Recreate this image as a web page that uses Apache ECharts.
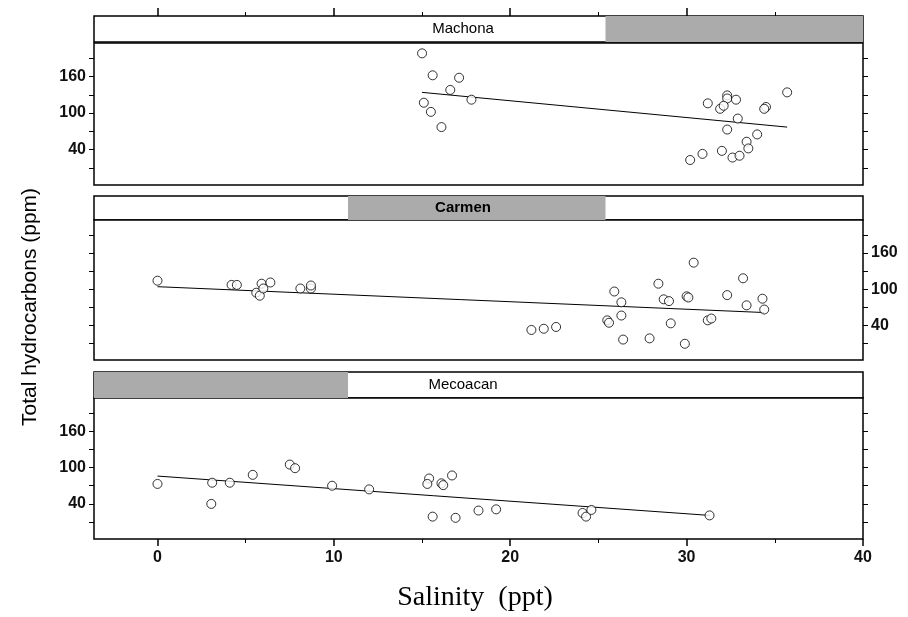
<!DOCTYPE html>
<html>
<head>
<meta charset="utf-8">
<script src="https://cdn.jsdelivr.net/npm/echarts@6/dist/echarts.min.js"></script>
<style>
  html, body { margin: 0; padding: 0; background: #fff; }
  #chart { width: 908px; height: 617px; }
</style>
</head>
<body>
<div id="chart"></div>
<script>
// salinity (ppt) vs total hydrocarbons (ppm), one panel per lagoon
const panelNames = ["Machona", "Carmen", "Mecoacan"];

const machonaPts = [
  [15.0, 198], [15.6, 162], [17.1, 158], [16.6, 138], [17.8, 122], [15.1, 117], [15.5, 102], [16.1, 77],
  [35.7, 134], [31.2, 116], [32.3, 129], [32.3, 124], [32.8, 122], [31.9, 107], [32.1, 112], [34.5, 110],
  [34.4, 107], [32.9, 91], [32.3, 73], [34.0, 65], [33.4, 53], [33.5, 42], [32.0, 38], [30.9, 33],
  [30.2, 23], [32.6, 27], [33.0, 30]
];
const machonaFit = [[15.0, 134], [35.7, 77]];

const carmenPts = [
  [0.0, 114], [4.2, 107], [4.5, 107], [5.9, 109], [6.4, 111], [5.6, 94], [5.8, 89], [6.0, 101],
  [8.1, 101], [8.7, 101], [8.7, 106],
  [30.4, 144], [33.2, 118], [28.4, 109], [25.9, 96], [32.3, 90], [34.3, 84], [28.7, 83], [29.0, 80],
  [30.0, 88], [30.1, 86], [26.3, 78], [33.4, 73], [34.4, 66], [26.3, 56], [25.5, 48], [25.6, 44],
  [31.2, 48], [31.4, 51], [29.1, 43], [21.2, 32], [21.9, 34], [22.6, 37], [26.4, 16], [27.9, 18],
  [29.9, 9]
];
const carmenFit = [[0.0, 104], [34.4, 61]];

const mecoacanPts = [
  [0.0, 73], [3.1, 75], [4.1, 75], [3.05, 40], [5.4, 88], [7.5, 105], [7.8, 99], [9.9, 70],
  [12.0, 64], [15.4, 82], [15.3, 73], [16.1, 74], [16.2, 71], [16.7, 87], [15.6, 19], [16.9, 17],
  [18.2, 29], [19.2, 31], [24.1, 25], [24.3, 19], [24.6, 30], [31.3, 21]
];
const mecoacanFit = [[0.0, 86], [31.3, 21]];

// salinity band shaded in each strip
const machonaShade = [25.4, 40];
const carmenShade = [10.8, 25.4];
const mecoacanShade = [-3.6, 10.8];

const salinityMajor = [0, 10, 20, 30, 40];
const salinityMinor = [5, 15, 25, 35];
const hcTicks = [10, 40, 70, 100, 130, 160, 190];
const hcLabels = [40, 100, 160];

const chart = echarts.init(document.getElementById("chart"));

const xMin = -3.6, xMax = 40;
const yMin = -18, yMax = 215;
const gridLeft = 94, gridRight = 45;

// strip, plot, strip, plot, strip, plot
const boxes = [
  { top: 16, height: 26 },
  { top: 43, height: 142 },
  { top: 196, height: 24 },
  { top: 220, height: 140 },
  { top: 372, height: 26 },
  { top: 398, height: 141 },
];

const grid = boxes.map((b) => ({
  left: gridLeft,
  right: gridRight,
  top: b.top,
  height: b.height,
  show: true,
  backgroundColor: "#fff",
  borderColor: "#000",
  borderWidth: 1.5,
}));

const labelFont = {
  fontFamily: "Liberation Sans",
  fontSize: 16,
  fontWeight: "bold",
  color: "#111",
};

const noLine = { show: false, onZero: false };

function xAxisFor(i) {
  const ax = {
    type: "value",
    gridIndex: i,
    min: xMin,
    max: xMax,
    splitLine: { show: false },
    axisLine: noLine,
    axisTick: { show: false },
    axisLabel: { show: false },
  };
  if (i === 0) {
    ax.position = "top";
    ax.axisTick = { show: true, customValues: salinityMajor.slice(0, 4), length: 8, lineStyle: { color: "#000", width: 1.5 } };
  }
  if (i === 5) {
    ax.position = "bottom";
    ax.axisTick = { show: true, customValues: salinityMajor, length: 7, lineStyle: { color: "#000", width: 1.5 } };
    ax.axisLabel = { show: true, customValues: salinityMajor, margin: 11, ...labelFont };
  }
  return ax;
}

const xAxis = boxes.map((b, i) => xAxisFor(i));
// minor salinity ticks on top strip and bottom panel
xAxis.push({
  type: "value", gridIndex: 0, position: "top", min: xMin, max: xMax,
  splitLine: { show: false }, axisLine: noLine, axisLabel: { show: false },
  axisTick: { show: true, customValues: salinityMinor, length: 4, lineStyle: { color: "#000" } },
});
xAxis.push({
  type: "value", gridIndex: 5, position: "bottom", min: xMin, max: xMax,
  splitLine: { show: false }, axisLine: noLine, axisLabel: { show: false },
  axisTick: { show: true, customValues: salinityMinor, length: 4, lineStyle: { color: "#000" } },
});

function hcAxis(gridIndex, position, withLabels) {
  return {
    type: "value",
    gridIndex: gridIndex,
    position: position,
    min: yMin,
    max: yMax,
    splitLine: { show: false },
    axisLine: noLine,
    axisTick: { show: true, customValues: hcTicks, length: 5, lineStyle: { color: "#000" } },
    axisLabel: withLabels
      ? { show: true, customValues: hcLabels, margin: 8, ...labelFont }
      : { show: false },
  };
}

const yAxis = boxes.map((b, i) => {
  if (i % 2 === 0) {
    return {
      type: "value", gridIndex: i, min: 0, max: 1, show: false,
      splitLine: { show: false },
    };
  }
  // label side: left for Machona and Mecoacan, right for Carmen
  return hcAxis(i, "left", i !== 3);
});
yAxis.push(hcAxis(1, "right", false));
yAxis.push(hcAxis(3, "right", true));
yAxis.push(hcAxis(5, "right", false));

const panels = [
  { pts: machonaPts, fit: machonaFit, shade: machonaShade },
  { pts: carmenPts, fit: carmenFit, shade: carmenShade },
  { pts: mecoacanPts, fit: mecoacanFit, shade: mecoacanShade },
];

const series = [];
panels.forEach((p, k) => {
  const s = k * 2, g = k * 2 + 1;
  series.push({
    type: "line",
    xAxisIndex: s,
    yAxisIndex: s,
    data: [],
    silent: true,
    markArea: {
      silent: true,
      itemStyle: { color: "#ababab" },
      data: [[{ xAxis: p.shade[0] }, { xAxis: p.shade[1] }]],
    },
  });
  series.push({
    type: "line",
    xAxisIndex: g,
    yAxisIndex: g,
    data: p.fit,
    showSymbol: false,
    silent: true,
    z: 2,
    lineStyle: { color: "#000", width: 1 },
  });
  series.push({
    type: "scatter",
    xAxisIndex: g,
    yAxisIndex: g,
    data: p.pts,
    symbol: "circle",
    symbolSize: 9,
    z: 3,
    itemStyle: { color: "#fff", borderColor: "#000", borderWidth: 1 },
  });
});

const stripText = panelNames.map((name, k) => ({
  type: "text",
  x: 463,
  y: boxes[k * 2].top + boxes[k * 2].height / 2,
  z: 10,
  style: {
    text: name,
    textAlign: "center",
    textVerticalAlign: "middle",
    fontFamily: "Liberation Sans",
    fontSize: 15,
    fontWeight: k === 1 ? "bold" : "normal",
    fill: "#000",
  },
}));

chart.setOption({
  animation: false,
  backgroundColor: "#fff",
  grid: grid,
  xAxis: xAxis,
  yAxis: yAxis,
  series: series,
  graphic: [
    ...stripText,
    {
      type: "text",
      x: 30,
      y: 307,
      rotation: Math.PI / 2,
      style: {
        text: "Total hydrocarbons (ppm)",
        textAlign: "center",
        textVerticalAlign: "middle",
        fontFamily: "Liberation Sans",
        fontSize: 21,
        fill: "#000",
      },
    },
    {
      type: "text",
      x: 475,
      y: 598,
      style: {
        text: "Salinity  (ppt)",
        textAlign: "center",
        textVerticalAlign: "middle",
        fontFamily: "Liberation Serif",
        fontSize: 28,
        fill: "#000",
      },
    },
  ],
});
</script>
</body>
</html>
